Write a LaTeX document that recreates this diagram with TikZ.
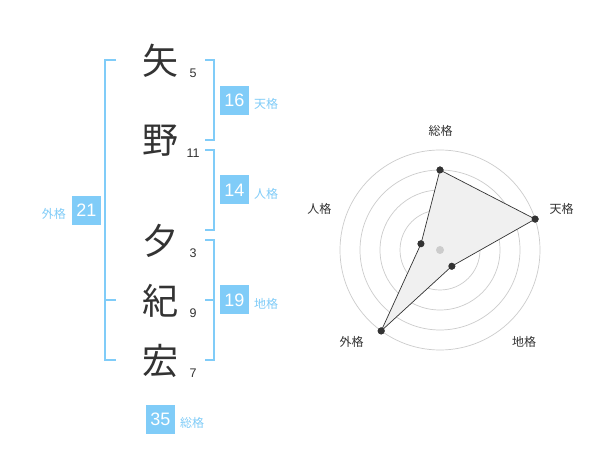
\documentclass[tikz,border=0pt]{standalone}
\usepackage{fontspec}
\setmainfont{Liberation Sans}
\newfontfamily\jp{Noto Sans CJK JP}
\definecolor{kblue}{RGB}{128,204,248}
\definecolor{ktext}{RGB}{51,51,51}
\definecolor{kring}{RGB}{204,204,204}
\definecolor{kfill}{RGB}{240,240,240}
\begin{document}
\begin{tikzpicture}[x=1pt,y=-1pt,
  kanji/.style={font=\jp\fontsize{36}{36}\selectfont, text=ktext, inner sep=0pt},
  strokes/.style={font=\fontsize{12.5}{12.5}\selectfont, text=ktext, inner sep=0pt},
  valbox/.style={fill=kblue, text=white, minimum width=29pt, minimum height=29pt, inner sep=0pt, font=\fontsize{18}{18}\selectfont},
  kaku/.style={font=\jp\fontsize{12}{12}\selectfont, text=kblue, inner sep=0pt},
  bracket/.style={draw=kblue, line width=2pt},
  ring/.style={draw=kring, line width=0.7pt},
  radlabel/.style={font=\jp\fontsize{12}{12}\selectfont, text=ktext, inner sep=0pt},
  dot/.style={circle, fill=ktext, minimum size=7pt, inner sep=0pt},
  edge/.style={draw=ktext, line width=0.7pt}]
\useasboundingbox (0,0) rectangle (600,470);
\fill[white] (0,0) rectangle (600,470);

% name characters
\node[kanji] (c1) at (160,61) {矢};
\node[kanji] (c2) at (160,141) {野};
\node[kanji] (c3) at (160,241) {夕};
\node[kanji] (c4) at (160,301) {紀};
\node[kanji] (c5) at (160,361) {宏};

\node[strokes] (s1) at (193,73) {5};
\node[strokes] (s2) at (193,153) {11};
\node[strokes] (s3) at (193,253) {3};
\node[strokes] (s4) at (193,313) {9};
\node[strokes] (s5) at (193,373) {7};

% brackets
\draw[bracket] (205,60) -- (214,60) -- (214,140) -- (205,140);
\draw[bracket] (205,150) -- (214,150) -- (214,230) -- (205,230);
\draw[bracket] (205,240) -- (214,240) -- (214,360) -- (205,360);
\draw[bracket] (205,300) -- (214,300);
\draw[bracket] (116,60) -- (105,60) -- (105,360) -- (116,360);
\draw[bracket] (105,300) -- (116,300);

% values
\node[valbox] (v1) at (234.5,100.5) {16};
\node[kaku, anchor=west] (k1) at (254,104) {天格};
\node[valbox] (v2) at (234.5,190) {14};
\node[kaku, anchor=west] (k2) at (254,194) {人格};
\node[valbox] (v3) at (234.5,300) {19};
\node[kaku, anchor=west] (k3) at (254,304) {地格};
\node[valbox] (v4) at (86.5,210.5) {21};
\node[kaku, anchor=east] (k4) at (66,214) {外格};
\node[valbox] (v5) at (160.5,419) {35};
\node[kaku, anchor=west] (k5) at (180,423) {総格};

% radar chart
\foreach \r in {20,40,60,80,100} \draw[ring] (440,250) circle[radius=\r pt];
\node[circle, fill=kring, minimum size=8pt, inner sep=0pt] (ctr) at (440,250) {};

\node[dot] (pS) at (440,170) {};
\node[dot] (pT) at (535.1,219.1) {};
\node[dot] (pC) at (451.8,266.2) {};
\node[dot] (pG) at (381.2,330.9) {};
\node[dot] (pJ) at (421,243.8) {};

\fill[kfill] (pS.center) -- (pT.center) -- (pC.center) -- (pG.center) -- (pJ.center) -- cycle;
\fill[kring] (ctr.center) circle[radius=4pt];
\draw[edge] (pS.center) -- (pT.center) -- (pC.center) -- (pG.center) -- (pJ.center) -- cycle;
\foreach \p in {pS,pT,pC,pG,pJ} \fill[ktext] (\p.center) circle[radius=3.5pt];

\node[radlabel] (lS) at (440.7,131) {総格};
\node[radlabel] (lT) at (561.7,209) {天格};
\node[radlabel] (lC) at (524,342) {地格};
\node[radlabel] (lG) at (351.7,342) {外格};
\node[radlabel] (lJ) at (319.3,209) {人格};
\end{tikzpicture}
\end{document}
